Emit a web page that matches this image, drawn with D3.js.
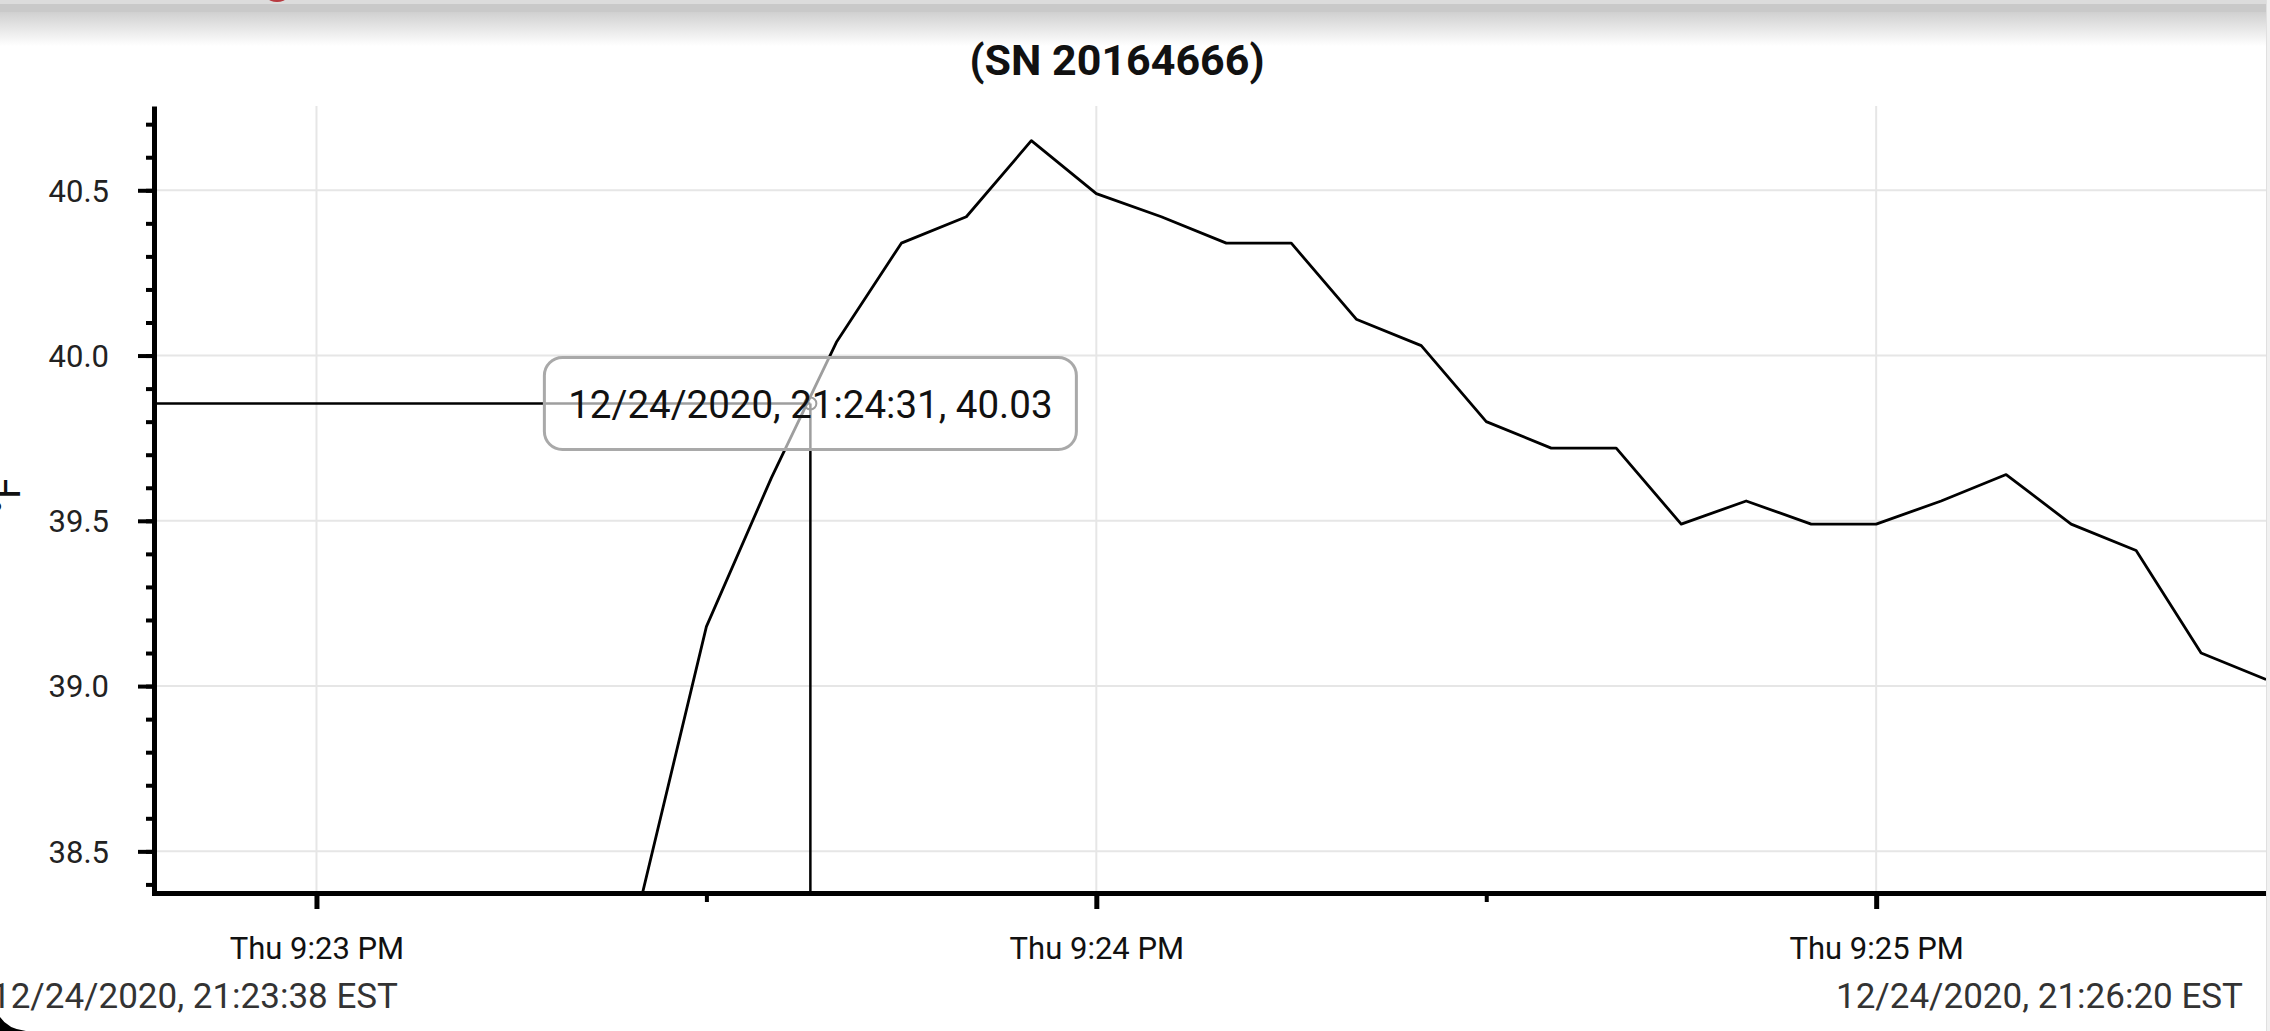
<!DOCTYPE html>
<html><head><meta charset="utf-8">
<script src="https://cdn.jsdelivr.net/npm/d3@7"></script>
<style>
html,body{margin:0;padding:0;background:#fff;overflow:hidden}
svg{display:block;font-family:Roboto,"Noto Sans",sans-serif}
</style>
</head><body>
<svg id="c" width="2270" height="1031"></svg>
<script>
// ---------- data ----------
const chartTitle = "(SN 20164666)";
const yAxisLabel = "°F";
const sampleTimes = ["21:23:25","21:23:30","21:23:35","21:23:40","21:23:45","21:23:50","21:23:55",
  "21:24:00","21:24:05","21:24:10","21:24:15","21:24:20","21:24:25","21:24:30","21:24:35","21:24:40",
  "21:24:45","21:24:50","21:24:55","21:25:00","21:25:05","21:25:10","21:25:15","21:25:20","21:25:25","21:25:30"];
const sampleValues = [38.36,39.18,39.63,40.04,40.34,40.42,40.65,
  40.49,40.42,40.34,40.34,40.11,40.03,39.80,39.72,39.72,
  39.49,39.56,39.49,39.49,39.56,39.64,39.49,39.41,39.10,39.02];
const xDomainTimes = ["21:22:47.5","21:25:30.3"];
const yDomainValues = [38.374, 40.755];
const xMajorTicks = ["21:23:00","21:24:00","21:25:00"];
const xMajorLabels = ["Thu 9:23 PM","Thu 9:24 PM","Thu 9:25 PM"];
const xMinorTicks = ["21:23:30","21:24:30"];
const yMajorTicks = [38.5,39.0,39.5,40.0,40.5];
const yMinorTicks = [38.4,38.5,38.6,38.7,38.8,38.9,39.0,39.1,39.2,39.3,39.4,39.5,39.6,39.7,39.8,39.9,40.0,40.1,40.2,40.3,40.4,40.5,40.6,40.7];
const crosshairTime = "21:23:38";
const crosshairValue = 39.855;
const tooltipText = "12/24/2020, 21:24:31, 40.03";
const footerStart = "12/24/2020, 21:23:38 EST";
const footerEnd = "12/24/2020, 21:26:20 EST";

// ---------- helpers ----------
function parseT(s){
  const p = s.split(":");
  const sec = parseFloat(p[2]);
  return new Date(2020, 11, 24, +p[0], +p[1], Math.floor(sec), Math.round((sec - Math.floor(sec))*1000));
}

const W = 2270, H = 1031;
const plotL = 154, plotR = 2266, plotT = 106, plotB = 893;
const svg = d3.select("#c");

// header bar
const defs = svg.append("defs");
const g1 = defs.append("linearGradient").attr("id","hdr").attr("x1",0).attr("x2",0).attr("y1",0).attr("y2",1);
g1.append("stop").attr("offset","0").attr("stop-color","#d0d0d0");
g1.append("stop").attr("offset","1").attr("stop-color","#ffffff");
defs.append("clipPath").attr("id","plotClip").append("rect")
  .attr("x",plotL).attr("y",plotT).attr("width",plotR-plotL).attr("height",plotB-plotT);

svg.append("rect").attr("x",0).attr("y",12).attr("width",plotR).attr("height",34).attr("fill","url(#hdr)");
svg.append("rect").attr("x",0).attr("y",0).attr("width",plotR).attr("height",4).attr("fill","#dcdcdc");
svg.append("rect").attr("x",0).attr("y",4).attr("width",plotR).attr("height",8).attr("fill","#c9c9c9");
svg.append("circle").attr("cx",277).attr("cy",-15).attr("r",17).attr("fill","#b83a40");

// right strip
svg.append("rect").attr("x",plotR).attr("y",0).attr("width",W-plotR).attr("height",H).attr("fill","#f1f1f1");
svg.append("line").attr("x1",plotR+0.5).attr("x2",plotR+0.5).attr("y1",0).attr("y2",H).attr("stroke","#e0e0e0").attr("stroke-width",1);

// scales
const x = d3.scaleTime().domain(xDomainTimes.map(parseT)).range([plotL, 2270]);
const y = d3.scaleLinear().domain(yDomainValues).range([plotB, plotT]);

// gridlines
const grid = svg.append("g");
grid.selectAll("line.gy").data(yMajorTicks).join("line")
  .attr("x1",plotL).attr("x2",plotR).attr("y1",d=>y(d)).attr("y2",d=>y(d))
  .attr("stroke","#e6e6e6").attr("stroke-width",2);
grid.selectAll("line.gx").data(xMajorTicks.map(parseT)).join("line")
  .attr("y1",plotT).attr("y2",plotB).attr("x1",d=>x(d)).attr("x2",d=>x(d))
  .attr("stroke","#e6e6e6").attr("stroke-width",2);

// title
svg.append("text").attr("x",1117).attr("y",75).attr("text-anchor","middle")
  .attr("font-size",43).attr("font-weight","bold").attr("fill","#111").text(chartTitle);

// y label (mostly cut off at the left edge)
svg.append("text").attr("transform","translate(20,477) rotate(-90)")
  .attr("text-anchor","end").attr("font-size",40).attr("fill","#111").text(yAxisLabel);

// data line
const pts = sampleTimes.map((t,i)=>({t:parseT(t), v:sampleValues[i]}));
const line = d3.line().x(d=>x(d.t)).y(d=>y(d.v));
svg.append("path").datum(pts).attr("clip-path","url(#plotClip)")
  .attr("d",line).attr("fill","none").attr("stroke","#000").attr("stroke-width",2.8)
  .attr("stroke-linejoin","round");

// crosshair
const cx = x(parseT(crosshairTime)), cy = y(crosshairValue);
svg.append("line").attr("x1",plotL).attr("x2",cx).attr("y1",cy).attr("y2",cy)
  .attr("stroke","#000").attr("stroke-width",2.5);
svg.append("line").attr("x1",cx).attr("x2",cx).attr("y1",cy).attr("y2",plotB)
  .attr("stroke","#000").attr("stroke-width",2.5);
svg.append("circle").attr("cx",cx).attr("cy",cy).attr("r",6)
  .attr("fill","none").attr("stroke","#000").attr("stroke-width",2);

// axes
const yAxisMinor = d3.axisLeft(y).tickValues(yMinorTicks).tickSize(8).tickSizeOuter(0).tickFormat("");
const gyMin = svg.append("g").attr("transform",`translate(${plotL},0)`).call(yAxisMinor);
gyMin.select(".domain").remove();
gyMin.selectAll(".tick line").attr("stroke","#000").attr("stroke-width",4);

const yAxis = d3.axisLeft(y).tickValues(yMajorTicks).tickSize(16).tickSizeOuter(0)
  .tickPadding(29).tickFormat(d3.format(".1f"));
const gy = svg.append("g").attr("transform",`translate(${plotL},0)`).call(yAxis);
gy.select(".domain").attr("stroke","#000").attr("stroke-width",5);
gy.selectAll(".tick line").attr("stroke","#000").attr("stroke-width",4);
gy.selectAll(".tick text").attr("font-size",31).attr("fill","#222")
  .attr("font-family",'Roboto,"Noto Sans",sans-serif').attr("dy","0.35em");

const xAxisMinor = d3.axisBottom(x).tickValues(xMinorTicks.map(parseT)).tickSize(9).tickSizeOuter(0).tickFormat("");
const gxMin = svg.append("g").attr("transform",`translate(0,${plotB})`).call(xAxisMinor);
gxMin.select(".domain").remove();
gxMin.selectAll(".tick line").attr("stroke","#000").attr("stroke-width",4);

const xAxis = d3.axisBottom(x).tickValues(xMajorTicks.map(parseT)).tickSize(16).tickSizeOuter(0)
  .tickPadding(28).tickFormat((d,i)=>xMajorLabels[i]);
const gx = svg.append("g").attr("transform",`translate(0,${plotB})`).call(xAxis);
gx.select(".domain").attr("stroke","#000").attr("stroke-width",5)
  .attr("d",`M${plotL-2},0.5H${plotR}`);
gx.selectAll(".tick line").attr("stroke","#000").attr("stroke-width",5);
gx.selectAll(".tick text").attr("font-size",31).attr("fill","#111")
  .attr("font-family",'Roboto,"Noto Sans",sans-serif');

// tooltip
const tipW = 532, tipH = 92;
svg.append("rect").attr("x",cx-tipW/2).attr("y",cy-tipH/2).attr("width",tipW).attr("height",tipH)
  .attr("rx",18).attr("ry",18).attr("fill","rgba(255,255,255,0.62)")
  .attr("stroke","#a9a9a9").attr("stroke-width",3);
svg.append("text").attr("x",cx).attr("y",cy+15).attr("text-anchor","middle")
  .attr("font-size",38.5).attr("fill","#111").text(tooltipText);

// footer
svg.append("text").attr("x",398).attr("y",1008).attr("text-anchor","end")
  .attr("font-size",35).attr("fill","#333").text(footerStart);
svg.append("text").attr("x",2243).attr("y",1008).attr("text-anchor","end")
  .attr("font-size",35).attr("fill","#333").text(footerEnd);

// rounded screen corner at bottom-left
svg.append("path").attr("d","M0,1017 Q8,1029 26,1031 L0,1031 Z").attr("fill","#000");
</script>
</body></html>
